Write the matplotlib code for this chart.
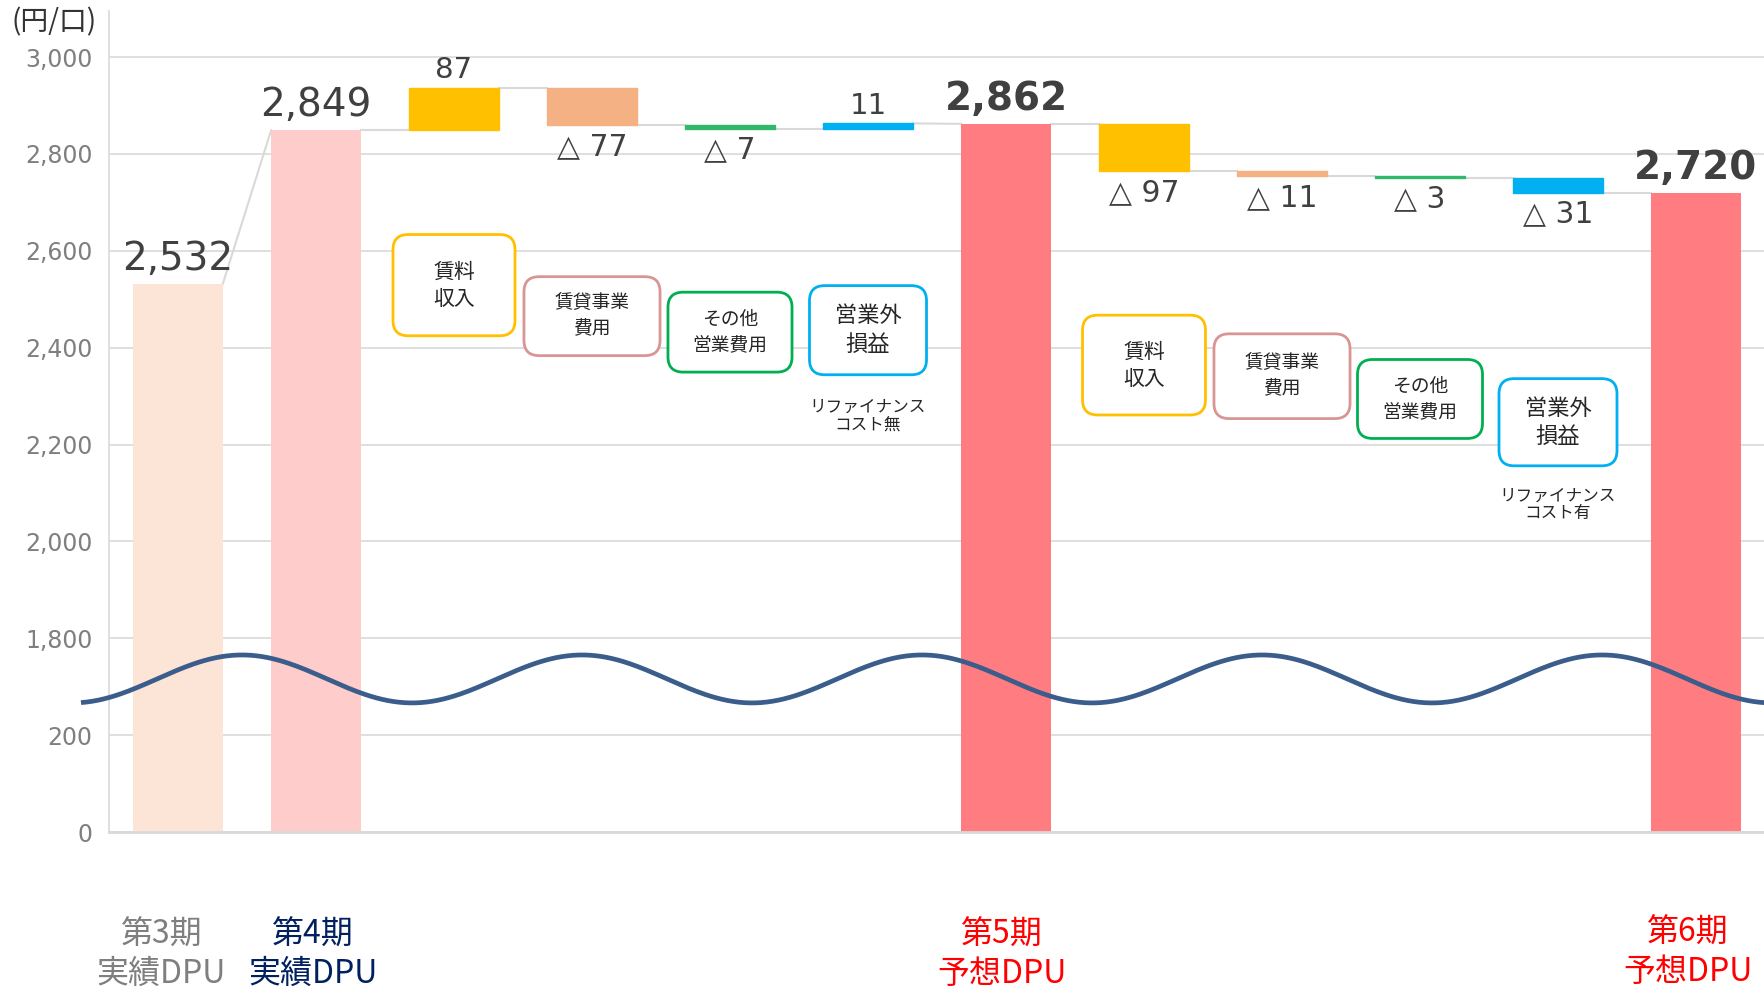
import matplotlib
matplotlib.use("Agg")
import matplotlib.pyplot as plt
import matplotlib.transforms as mtransforms
from matplotlib.patches import FancyBboxPatch
import numpy as np

# ---- data -------------------------------------------------------------
values = [2532, 2849, 87, -77, -7, 11, 2862, -97, -11, -3, -31, 2720]
is_total = [True, True, False, False, False, False, True, False, False, False, False, True]
bar_colors = ["#FCE4D6", "#FFCCCC", "#FFC000", "#F4B183", "#33B86B", "#00B0F0",
              "#FF7C80", "#FFC000", "#F4B183", "#33B86B", "#00B0F0", "#FF7C80"]
total_labels = ["第3期\n実績DPU", "第4期\n実績DPU", "第5期\n予想DPU", "第6期\n予想DPU"]
total_label_colors = ["#7F7F7F", "#002060", "#FF0000", "#FF0000"]
total_bold = [False, False, True, True]
ytick_values = [0, 200, 1800, 2000, 2200, 2400, 2600, 2800, 3000]
unit_label = "(円/口)"

box_texts = ["賃料\n収入", "賃貸事業\n費用", "その他\n営業費用", "営業外\n損益"]
box_colors = ["#FFC000", "#D99594", "#00B050", "#00B0F0"]
notes = ["リファイナンス\nコスト無", "リファイナンス\nコスト有"]

# ---- layout -------------------------------------------------------------
BREAK = 1400          # values >= 1800 are shifted down by this amount
JP = ["Noto Sans CJK JP", "DejaVu Sans"]
W = 0.65
PX_X = 138.0          # pixels per x unit
PX_Y = 0.4844         # pixels per y unit


def disp(v):
    return v - BREAK if v >= 1000 else v


fig = plt.figure(figsize=(17.65, 9.88), dpi=100)
ax = fig.add_axes([109 / 1765, 156 / 988, 1656 / 1765, 821 / 988])
ax.set_xlim(-0.5, 11.5)
ax.set_ylim(0, 1695)

# waterfall bars
level = 0
starts, ends = [], []
for i, (v, tot) in enumerate(zip(values, is_total)):
    if tot:
        ax.bar(i, disp(v), width=W, color=bar_colors[i], zorder=2)
        starts.append(v)
        ends.append(v)
        level = v
    else:
        lo = min(level, level + v)
        ax.bar(i, abs(v), bottom=disp(lo), width=W, color=bar_colors[i],
               edgecolor=bar_colors[i], linewidth=1, zorder=2)
        starts.append(level)
        level += v
        ends.append(level)

# connectors
for i in range(len(values) - 1):
    ax.plot([i + W / 2, i + 1 - W / 2], [disp(ends[i]), disp(starts[i + 1])],
            color="#D9D9D9", lw=1.5, zorder=1)

# value labels
k = 0
for i, (v, tot) in enumerate(zip(values, is_total)):
    if tot:
        ax.annotate(f"{v:,}", (i, disp(v)), xytext=(0, 10), textcoords="offset points",
                    ha="center", va="baseline", fontsize=28, color="#404040",
                    fontweight="bold" if total_bold[k] else "normal")
        k += 1
    elif v > 0:
        ax.annotate(f"{v}", (i, disp(ends[i])), xytext=(0, 7), textcoords="offset points",
                    ha="center", va="baseline", fontsize=21, color="#404040")
    else:
        ax.annotate(f"△ {abs(v)}", (i, disp(ends[i])), xytext=(0, -21.5),
                    textcoords="offset points", ha="center", va="baseline",
                    fontsize=21.5, color="#404040")

# category labels under the totals
blend = mtransforms.blended_transform_factory(ax.transData, fig.transFigure)
total_idx = [i for i, t in enumerate(is_total) if t]
x_nudge = [-0.12, -0.02, -0.03, -0.06]
y_pos = [0.034, 0.034, 0.034, 0.036]
for j, i in enumerate(total_idx):
    ax.text(i + x_nudge[j], y_pos[j], total_labels[j], transform=blend, ha="center",
            va="center", fontsize=23, color=total_label_colors[j], family=JP,
            linespacing=1.3)

# rounded category boxes
box_layout = [  # (x, y centre, width, height)
    [(2, 1129, 0.884, 209), (3, 1065, 0.986, 163), (4, 1032, 0.899, 165), (5, 1036, 0.848, 184)],
    [(7, 964, 0.891, 206), (8, 941, 0.986, 175), (9, 894, 0.906, 163), (10, 846, 0.855, 180)],
]
box_fs = [15, 13.5, 13.5, 16]
note_y = [859, 675]
aspect = PX_X / PX_Y
for g, group in enumerate(box_layout):
    for j, (x, y, w, h) in enumerate(group):
        patch = FancyBboxPatch((x - w / 2, y - h / 2), w, h,
                               boxstyle="round,pad=0,rounding_size=0.11",
                               mutation_aspect=aspect, facecolor="white",
                               edgecolor=box_colors[j], linewidth=2, zorder=3)
        ax.add_patch(patch)
        ax.text(x, y, box_texts[j], ha="center", va="center", fontsize=box_fs[j],
                family=JP, color="#262626", linespacing=1.3, zorder=4)
    ax.text(group[3][0], note_y[g], notes[g], ha="center", va="center", fontsize=12,
            family=JP, color="#262626", linespacing=1.05, zorder=4)

# axis-break wave
wx = np.linspace(-0.703, 11.5, 600)
wy = 316 + 49.5 * np.cos(2 * np.pi * (wx - 0.464) / 2.464)
ax.plot(wx, wy, color="#3A5D8C", lw=3.4, zorder=5, clip_on=False,
        solid_capstyle="butt")

# axes styling
ax.set_yticks([disp(v) for v in ytick_values])
ax.set_yticklabels([f"{v:,}" for v in ytick_values])
ax.set_xticks([])
ax.tick_params(axis="y", length=0, pad=12, labelsize=17, labelcolor="#7F7F7F")
ax.grid(axis="y", color="#D9D9D9", lw=1.2)
ax.set_axisbelow(True)
for s in ["top", "right"]:
    ax.spines[s].set_visible(False)
ax.spines["left"].set_color("#D9D9D9")
ax.spines["left"].set_linewidth(1.2)
ax.spines["bottom"].set_color("#D9D9D9")
ax.spines["bottom"].set_linewidth(2)

fig.text(54 / 1765, 1 - 22 / 988, unit_label, ha="center", va="center", fontsize=20,
         color="#333333", family=JP)

fig.savefig("out.png", dpi=100)
